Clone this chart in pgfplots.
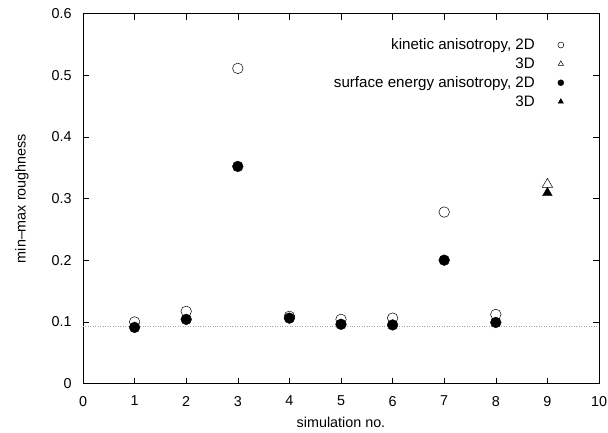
\documentclass[border=0pt]{standalone}
\usepackage{pgfplots}
\pgfplotsset{compat=1.18}
\usepackage{fontspec}
\setmainfont{Liberation Sans}
\newcommand\legfont{\fontsize{15.2}{18}\selectfont}
\begin{document}
\begin{tikzpicture}
\begin{axis}[
  scale only axis,
  width=516bp, height=370bp,
  xmin=0, xmax=10, ymin=0, ymax=0.6,
  xtick={0,1,...,10},
  ytick={0,0.1,...,0.6},
  yticklabel style={/pgf/number format/fixed, /pgf/number format/precision=1, xshift=-8bp},
  xticklabel style={yshift=-9bp},
  /pgf/number format/assume math mode=true,
  tick align=inside,
  major tick length=6bp,
  axis line style={line width=0.6pt},
  tick style={black, line width=0.6pt},
  tick label style={font=\Large},
  label style={font=\Large},
  xlabel={simulation no.},
  ylabel={min--max roughness},
  xlabel style={yshift=-4bp},
  ylabel style={yshift=16bp},
  legend style={draw=none, fill=none, at={(0.938,0.943)}, anchor=north east,
    font=\legfont, row sep=2.6bp, column sep=21bp},
  legend image post style={mark size=3pt},
  legend cell align=right,
  legend plot pos=right,
]
\addplot[gray!70, dotted, line width=0.5pt, forget plot] coordinates {(0,0.093) (10,0.093)};
\addplot[only marks, mark=o, mark size=5.3pt, black, mark options={line width=0.5pt}] coordinates {
 (1,0.0998) (2,0.117) (3,0.511) (4,0.109) (5,0.104) (6,0.106) (7,0.278) (8,0.112)};
\addlegendentry{kinetic anisotropy, 2D}
\addplot[only marks, mark=triangle, mark size=6pt, black, mark options={line width=0.5pt}] coordinates {
 (9,0.323)};
\addlegendentry{3D}
\addplot[only marks, mark=*, mark size=5.4pt, black] coordinates {
 (1,0.091) (2,0.104) (3,0.352) (4,0.106) (5,0.096) (6,0.095) (7,0.200) (8,0.099)};
\addlegendentry{surface energy anisotropy, 2D}
\addplot[only marks, mark=triangle*, mark size=5.6pt, black] coordinates {
 (9,0.309)};
\addlegendentry{3D}
\end{axis}
\pgfresetboundingbox
\useasboundingbox ([xshift=-83bp,yshift=-48.7bp]current axis.south west) rectangle ([xshift=9bp,yshift=13.5bp]current axis.north east);
\end{tikzpicture}
\end{document}
